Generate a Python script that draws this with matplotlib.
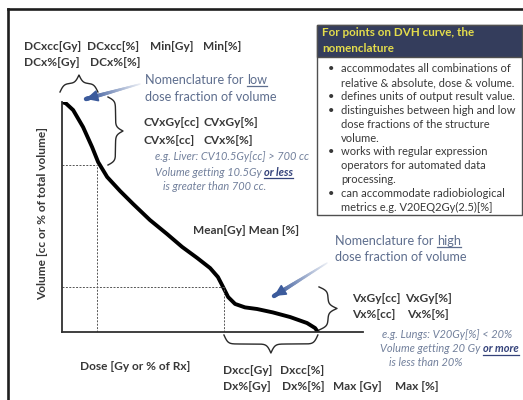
import numpy as np
import matplotlib
matplotlib.use("Agg")
import matplotlib.pyplot as plt
from matplotlib.collections import LineCollection
from matplotlib.patches import Rectangle

plt.rcParams['font.family'] = ['Lato', 'DejaVu Sans']

# DVH curve: dose (% of axis) and volume (% of total volume)
dose = [0, 1.3, 3.7, 7.0, 10.0, 12.0, 15.0, 19.3, 23.6, 29.2, 34.9, 39.9, 44.9,
        49.2, 51.8, 53.5, 55.2, 57.5, 60.8, 64.8, 70.1, 75.8, 81.4, 84.1, 85.0]
volume = [100, 99.4, 96.5, 89.1, 80.4, 73.9, 67.4, 61.3, 55.7, 48.7, 42.6, 37.0, 32.2,
          27.8, 23.9, 19.6, 15.2, 12.2, 10.7, 10.0, 8.5, 6.5, 3.9, 1.7, 0]

# points on the curve marked by dashed guides (low / high dose fraction)
guide_dose = [11.6, 53.8]
guide_volume = [72.6, 19.6]

# nomenclature labels
low_labels = [["DCxcc[Gy]", "DCxcc[%]", "Min[Gy]", "Min[%]"], ["DCx%[Gy]", "DCx%[%]"]]
cv_labels = [["CVxGy[cc]", "CVxGy[%]"], ["CVx%[cc]", "CVx%[%]"]]
v_labels = [["VxGy[cc]", "VxGy[%]"], ["Vx%[cc]", "Vx%[%]"]]
d_labels = [["Dxcc[Gy]", "Dxcc[%]"], ["Dx%[Gy]", "Dx%[%]", "Max [Gy]", "Max [%]"]]
mean_label = "Mean[Gy] Mean [%]"
x_title = "Dose [Gy or % of Rx]"
y_title = "Volume [cc or % of total volume]"

box_title = ["For points on DVH curve, the", "nomenclature"]
box_bullets = [
    ["accommodates all combinations of", "relative & absolute, dose & volume."],
    ["defines units of output result value."],
    ["distinguishes between high and low", "dose fractions of the structure", "volume."],
    ["works with regular expression", "operators for automated data", "processing."],
    ["can accommodate radiobiological", "metrics e.g. V20EQ2Gy(2.5)[%]"],
]

# colours
dark = '#383838'
note_col = '#5e6e8e'
eg_col = '#72809c'
navy = '#343d5c'

fig = plt.figure(figsize=(5.23, 4), dpi=100)
fig.patch.set_facecolor('white')

# DVH axes
ax = fig.add_axes([62 / 523, 68 / 400, 301 / 523, 230 / 400])
ax.set_xlim(0, 100)
ax.set_ylim(0, 100)
ax.set_facecolor('none')
for s in ['top', 'right']:
    ax.spines[s].set_visible(False)
for s in ['left', 'bottom']:
    ax.spines[s].set_color('#303030')
    ax.spines[s].set_linewidth(1.3)
ax.set_xticks([])
ax.set_yticks([])

ax.plot(dose, volume, color='black', lw=2.8, solid_capstyle='round', solid_joinstyle='round')
for gd, gv in zip(guide_dose, guide_volume):
    ax.plot([0, gd], [gv, gv], color='#555555', lw=0.7, ls=(0, (2, 1.5)))
    ax.plot([gd, gd], [0, gv], color='#555555', lw=0.7, ls=(0, (2, 1.5)))

# overlay in pixel coordinates for annotations
ov = fig.add_axes([0, 0, 1, 1], zorder=5)
ov.set_xlim(0, 523)
ov.set_ylim(400, 0)
ov.axis('off')
ov.patch.set_alpha(0)

renderer = fig.canvas.get_renderer()


def px(d, v):
    disp = ax.transData.transform((d, v))
    return ov.transData.inverted().transform(disp)


def text_w(s, **kw):
    t = ov.text(0, 0, s, **kw)
    w = t.get_window_extent(renderer).width
    t.remove()
    return w


# outer frame
ov.plot([8, 523], [9, 9], color='#1e1e1e', lw=1.9, clip_on=False)
ov.plot([8, 8], [9, 400], color='#1e1e1e', lw=1.9, clip_on=False)


def brace(p0, p1, n, depth, beta=0.5):
    p0 = np.asarray(p0, float)
    p1 = np.asarray(p1, float)
    L = np.hypot(*(p1 - p0))
    u = (p1 - p0) / L
    s = np.linspace(0, L / 2, 120)
    f = 1 / (1 + np.exp(-beta * s)) + 1 / (1 + np.exp(-beta * (s - L / 2))) - 0.5
    s_full = np.concatenate([s, L - s[::-1]])
    f_full = np.concatenate([f, f[::-1]])
    pts = p0 + np.outer(s_full, u) + np.outer(f_full * depth, np.asarray(n, float))
    ov.plot(pts[:, 0], pts[:, 1], color='#2a2a2a', lw=1.0)


# braces tied to the curve
x0 = px(0, 0)[0]
xg_low = px(guide_dose[0], 0)[0]
brace((x0 - 2, 92), (xg_low + 1, 92), (0, -1), 17)
y_low = px(0, guide_volume[0])[1]
brace((108, 97), (108, y_low), (1, 0), 15)
y_high = px(0, guide_volume[1])[1]
y_zero = px(0, 0)[1]
brace((319, y_high), (319, y_zero - 2), (1, 0), 18)
x_hi = px(guide_dose[1], 0)[0]
x_end = px(dose[-1], 0)[0]
brace((x_hi, 335), (x_end, 335), (0, 1), 18)


def grad_arrow(start, end):
    start = np.asarray(start, float)
    end = np.asarray(end, float)
    n = 40
    t = np.linspace(0, 1, n + 1)
    pts = start + np.outer(t, end - start)
    segs = np.stack([pts[:-1], pts[1:]], axis=1)
    c0 = np.array(matplotlib.colors.to_rgb('#eef1f7'))
    c1 = np.array(matplotlib.colors.to_rgb('#3c5b9c'))
    cols = [c0 + (c1 - c0) * k for k in t[1:]]
    lws = 1.0 + 2.2 * t[1:]
    ov.add_collection(LineCollection(segs, colors=cols, linewidths=lws, capstyle='round'))
    d = (end - start) / np.hypot(*(end - start))
    ov.annotate('', xy=end, xytext=end - d * 6,
                arrowprops=dict(arrowstyle='-|>,head_length=0.7,head_width=0.35',
                                color='#3c5b9c', lw=1.2, shrinkA=0, shrinkB=0))


grad_arrow((140, 84), (86, 99))
grad_arrow((327, 263), (274, 296))

bold_kw = dict(fontsize=8.6, fontweight='bold', color=dark, va='center', ha='left')

# label rows (positions are layout only)
low_x = [[24, 87, 150, 203], [24, 90]]
low_y = [46, 62]
for row, xs, y in zip(low_labels, low_x, low_y):
    for lab, x in zip(row, xs):
        ov.text(x, y, lab, **bold_kw)

cv_x = [[143, 203], [143, 203]]
cv_y = [123, 140]
for row, xs, y in zip(cv_labels, cv_x, cv_y):
    for lab, x in zip(row, xs):
        ov.text(x, y, lab, **bold_kw)

v_x = [[352, 405], [352, 407]]
v_y = [298, 315]
for row, xs, y in zip(v_labels, v_x, v_y):
    for lab, x in zip(row, xs):
        ov.text(x, y, lab, **bold_kw)

d_x = [[223, 280], [223, 282, 333, 395]]
d_y = [371, 387]
for row, xs, y in zip(d_labels, d_x, d_y):
    for lab, x in zip(row, xs):
        ov.text(x, y, lab, **bold_kw)

ov.text(193, 231, mean_label, **bold_kw)
ov.text(80, 366, x_title, **bold_kw)
ov.text(43, 213, y_title, fontsize=8.6, fontweight='bold', color=dark,
        rotation=90, va='center', ha='center')


def underlined_line(x, y, prefix, word, kw, word_kw, ucolor):
    ov.text(x, y, prefix, **kw)
    off = text_w(prefix + word, **kw) - text_w(word, **kw)
    ov.text(x + off, y, word, **word_kw)
    w = text_w(word, **word_kw)
    ov.plot([x + off, x + off + w], [y + 6, y + 6], color=ucolor, lw=0.9, clip_on=False)


note_kw = dict(fontsize=9.1, color=note_col, va='center', ha='left')
underlined_line(145, 80, "Nomenclature for ", "low", note_kw, note_kw, note_col)
ov.text(145, 97, "dose fraction of volume", **note_kw)
underlined_line(335, 241, "Nomenclature for ", "high", note_kw, note_kw, note_col)
ov.text(335, 257, "dose fraction of volume", **note_kw)

eg_kw = dict(fontsize=7.9, color=eg_col, style='italic', va='center', ha='left')
eg_bold = dict(eg_kw, fontweight='bold', color='#34427a')
ov.text(155, 157, "e.g. Liver: CV10.5Gy[cc] > 700 cc", **eg_kw)
underlined_line(155, 172, "Volume getting 10.5Gy ", "or less", eg_kw, eg_bold, '#34427a')
ov.text(163, 187, "is greater than 700 cc.", **eg_kw)

ov.text(382, 335, "e.g. Lungs: V20Gy[%] < 20%", **eg_kw)
underlined_line(380, 349, "Volume getting 20 Gy ", "or more", eg_kw, eg_bold, '#34427a')
ov.text(389, 363, "is less than 20%", **eg_kw)

# info box
ov.add_patch(Rectangle((317, 25), 205, 190, facecolor='white', edgecolor='#505050', lw=1.0))
ov.add_patch(Rectangle((317, 25), 205, 32, facecolor=navy, edgecolor='#505050', lw=1.0))
for i, line in enumerate(box_title):
    ov.text(322, 33 + 15 * i, line, fontsize=8.4, fontweight='bold', color='#e3dc4c',
            va='center', ha='left')

box_kw = dict(fontsize=8.0, color=dark, va='center', ha='left')
yy = 69
for item in box_bullets:
    ov.text(328, yy, "\u2022", **box_kw)
    for line in item:
        ov.text(341, yy, line, **box_kw)
        yy += 13.8

fig.savefig("out.png", dpi=100, facecolor='white')
